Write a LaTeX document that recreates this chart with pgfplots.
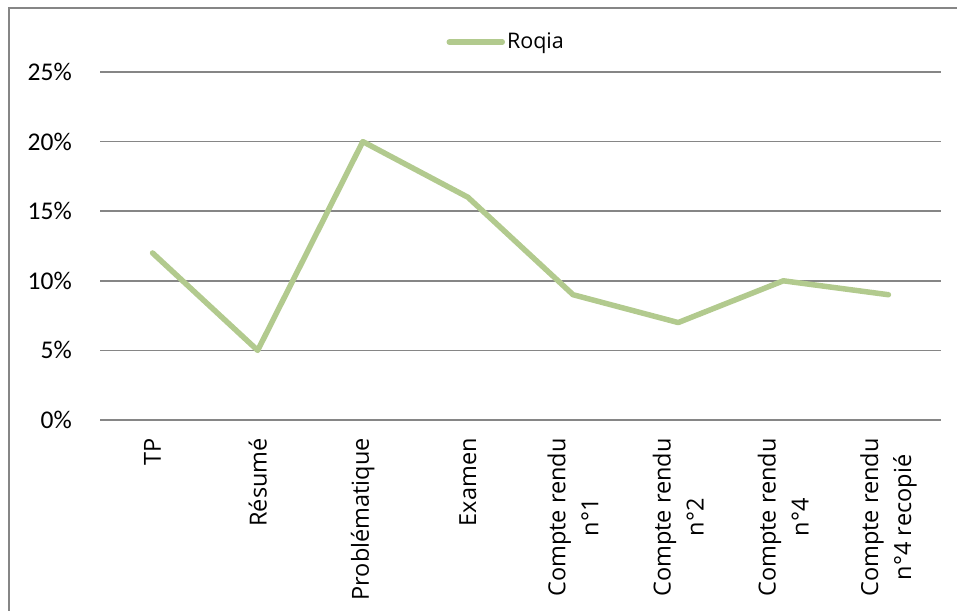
\documentclass[border=0pt]{standalone}
\usepackage{pgfplots}
\pgfplotsset{compat=1.18}
\usepackage{fontspec}
\setmainfont{Carlito}
\newfontfamily\labelfont{Open Sans}
\definecolor{linegreen}{RGB}{178,202,142}
\definecolor{gridgray}{RGB}{134,134,134}
\definecolor{bordergray}{RGB}{134,134,134}
\begin{document}
\fontsize{24}{30}\selectfont
\begin{tikzpicture}
\useasboundingbox (0,0) rectangle (957pt,610pt);
\draw[bordergray, line width=1.5pt] (9pt,-10pt) |- (970pt,602pt);
\begin{axis}[
  at={(100pt,190pt)}, anchor=south west,
  scale only axis, width=841pt, height=348pt,
  xmin=-0.5, xmax=7.5, ymin=0, ymax=25,
  axis line style={draw=none},
  major tick length=0pt,
  ytick={0,5,10,15,20,25},
  yticklabels={0\%,5\%,10\%,15\%,20\%,25\%},
  xtick={0,1,2,3,4,5,6,7},
  xticklabels={TP,Résumé,Problématique,Examen,Compte rendu\\n°1,Compte rendu\\n°2,Compte rendu\\n°4,Compte rendu\\n°4 recopié},
  ymajorgrids,
  grid style={gridgray, line width=1.5pt},
  yticklabel style={anchor=east, inner sep=0pt, font=\fontsize{25.5}{30}\selectfont},
  yticklabel shift=28pt,
  xticklabel style={rotate=90, anchor=east, align=center, inner sep=0pt, font=\labelfont\fontsize{23.5}{33}\selectfont},
  xticklabel shift=18pt,
  /pgf/number format/assume math mode=true,
  legend style={draw=none, fill=none, at={(0.483,1.086)}, anchor=center,
    font=\labelfont\fontsize{21.5}{30}\selectfont, nodes={inner sep=2pt}},
  legend image code/.code={\draw[#1, line cap=round] (0pt,0pt) -- (53pt,0pt);},
  clip=false,
]
\addplot[linegreen, line width=5.5pt, line cap=round, line join=round, mark=none]
  coordinates {(0,12) (1,5) (2,20) (3,16) (4,9) (5,7) (6,10) (7,9)};
\addlegendentry{Roqia}
\end{axis}
\end{tikzpicture}
\end{document}
